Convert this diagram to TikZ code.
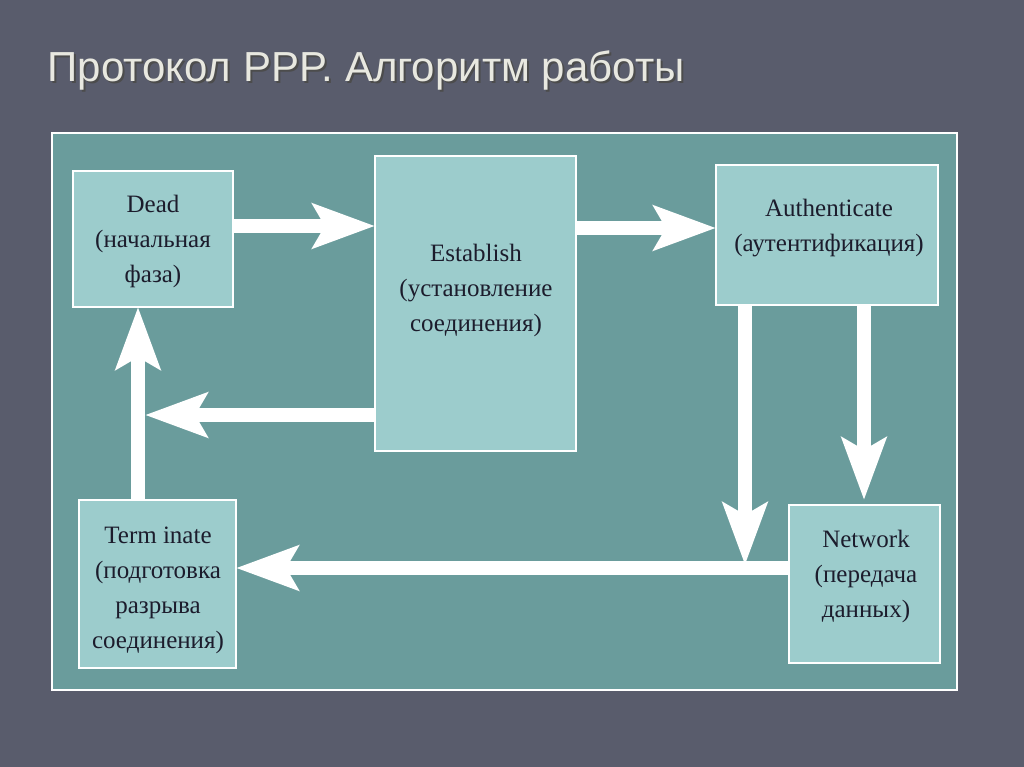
\documentclass[tikz,border=0pt]{standalone}
\usepackage{fontspec}
\setmainfont{Liberation Serif}
\newfontfamily\titlefont{Liberation Sans}
\usetikzlibrary{arrows.meta}
\definecolor{bg}{HTML}{595C6C}
\definecolor{panel}{HTML}{6A9C9C}
\definecolor{boxc}{HTML}{9CCCCC}
\definecolor{txt}{HTML}{1C1C2C}
\definecolor{ttl}{HTML}{E8E8E0}
\begin{document}
\begin{tikzpicture}[x=1pt,y=-1pt,
  stbox/.style={draw=white,line width=1.5pt,fill=boxc},
  lbl/.style={text=txt,align=center,font=\fontsize{25}{35}\selectfont},
  warr/.style={draw=white,line width=14pt,-{Stealth[length=62pt,width=44pt,inset=12pt]}}]
\useasboundingbox (0,0) rectangle (1024,767);
\fill[bg] (0,0) rectangle (1024,767);
\node[anchor=west,text=black!70,font=\titlefont\fontsize{42}{48}\selectfont] at (46,72) {Протокол PPP. Алгоритм работы};
\node[anchor=west,text=ttl,font=\titlefont\fontsize{42}{48}\selectfont] (title) at (44,70) {Протокол PPP. Алгоритм работы};
\draw[white,line width=1.5pt,fill=panel] (52,133) rectangle (957,690);
\draw[stbox] (73,171) rectangle (233,307);
\draw[stbox] (375,156) rectangle (576,451);
\draw[stbox] (716,165) rectangle (938,305);
\draw[stbox] (79,500) rectangle (236,668);
\draw[stbox] (789,505) rectangle (940,663);
\node[lbl] (dead) at (153,241) {Dead\\(начальная\\фаза)};
\node[lbl] (est) at (476,290) {Establish\\(установление\\соединения)};
\node[lbl] (auth) at (829,228) {Authenticate\\(аутентификация)};
\node[lbl] (term) at (158,590) {Term inate\\(подготовка\\разрыва\\соединения)};
\node[lbl] (net) at (866,576) {Network\\(передача\\данных)};
\coordinate (deadR) at (234,226); \coordinate (estL) at (375,226);
\coordinate (estR) at (577,228); \coordinate (authL) at (716,228);
\coordinate (estL2) at (375,415); \coordinate (tipDead) at (145,415);
\coordinate (authB1) at (745,306); \coordinate (tip1) at (745,565);
\coordinate (authB2) at (864,306); \coordinate (netT) at (864,500);
\coordinate (netL) at (789,568); \coordinate (termR) at (236,568);
\coordinate (termT) at (138,500); \coordinate (deadB) at (138,307);
\draw[warr] (deadR) -- (estL);
\draw[warr] (estR) -- (authL);
\draw[warr] (estL2) -- (tipDead);
\draw[warr] (netL) -- (termR);
\draw[warr] (authB1) -- (tip1);
\draw[warr] (authB2) -- (netT);
\draw[warr] (termT) -- (deadB);
\end{tikzpicture}
\end{document}
